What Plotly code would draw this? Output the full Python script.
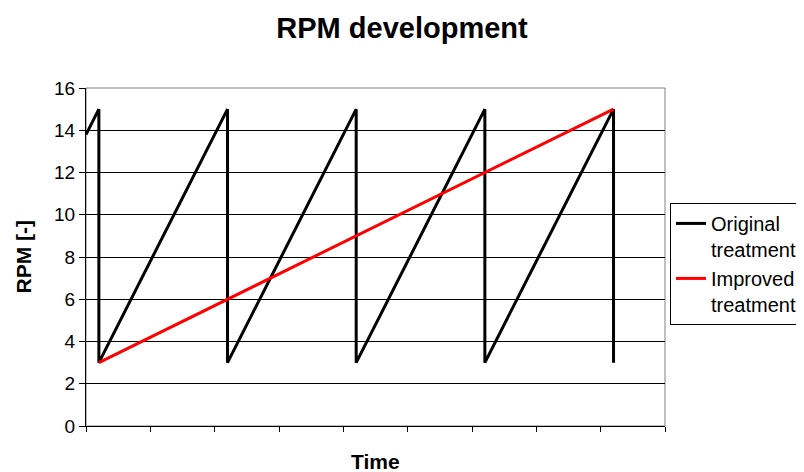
"""RPM development chart."""

import plotly.graph_objects as go

time_original = [0, 2, 2, 22, 22, 42, 42, 62, 62, 82, 82]
rpm_original = [13.8, 15, 3, 15, 3, 15, 3, 15, 3, 15, 3]

time_improved = [2, 82]
rpm_improved = [3, 15]

font_family = "Liberation Sans, Arial, sans-serif"

# the page body adds an 8px margin, so the figure is drawn 8px smaller
fig_width = 796
fig_height = 464

fig = go.Figure()
fig.add_scatter(
    x=time_original,
    y=rpm_original,
    mode="lines",
    name="Original<br>treatment",
    line={"color": "black", "width": 3},
)
fig.add_scatter(
    x=time_improved,
    y=rpm_improved,
    mode="lines",
    name="Improved<br>treatment",
    line={"color": "#ff0000", "width": 3},
)

fig.update_layout(
    width=fig_width,
    height=fig_height,
    margin={"l": 78, "r": 139, "t": 80, "b": 45.5, "autoexpand": False},
    paper_bgcolor="white",
    plot_bgcolor="white",
    showlegend=True,
    font={"family": font_family, "size": 19, "color": "black"},
    title={
        "text": "<b>RPM development</b>",
        "x": 0.5 - 4 / fig_width,
        "xanchor": "center",
        "y": 1 - 20 / fig_height,
        "yanchor": "middle",
        "font": {"size": 29},
    },
    xaxis={
        "range": [0, 90],
        "dtick": 10,
        "tick0": 0,
        "showgrid": False,
        "zeroline": False,
        "showticklabels": False,
        "ticks": "outside",
        "ticklen": 5,
        "tickcolor": "black",
        "showline": True,
        "linecolor": "black",
        "linewidth": 1,
        "automargin": False,
    },
    yaxis={
        "range": [0, 16],
        "dtick": 2,
        "showgrid": True,
        "gridcolor": "black",
        "gridwidth": 1,
        "zeroline": False,
        "ticks": "outside",
        "ticklen": 6,
        "tickcolor": "black",
        "showline": True,
        "linecolor": "black",
        "linewidth": 1,
        "automargin": False,
    },
    legend={
        "x": (670 - 86) / 579,
        "y": 0.66,
        "xanchor": "left",
        "yanchor": "top",
        "bordercolor": "black",
        "borderwidth": 1,
        "itemwidth": 30,
        "tracegroupgap": 0,
        "valign": "top",
        "font": {"size": 20},
    },
    annotations=[
        {
            "text": "<b>Time</b>",
            "xref": "x domain",
            "yref": "paper",
            "x": 0.5,
            "y": -(462.5 - 426.5) / 338.5,
            "xanchor": "center",
            "yanchor": "middle",
            "showarrow": False,
            "font": {"size": 21},
        },
        {
            "text": "<b>RPM [-]</b>",
            "xref": "paper",
            "yref": "y domain",
            "x": (22.5 - 86) / 579,
            "y": 0.5,
            "xanchor": "center",
            "yanchor": "middle",
            "textangle": -90,
            "showarrow": False,
            "font": {"size": 21},
        },
    ],
    shapes=[
        {
            "type": "rect",
            "xref": "x domain",
            "yref": "y domain",
            "x0": 0,
            "x1": 1,
            "y0": 0,
            "y1": 1,
            "line": {"color": "#808080", "width": 1},
            "layer": "below",
        }
    ],
)

fig.write_html("out.html")
